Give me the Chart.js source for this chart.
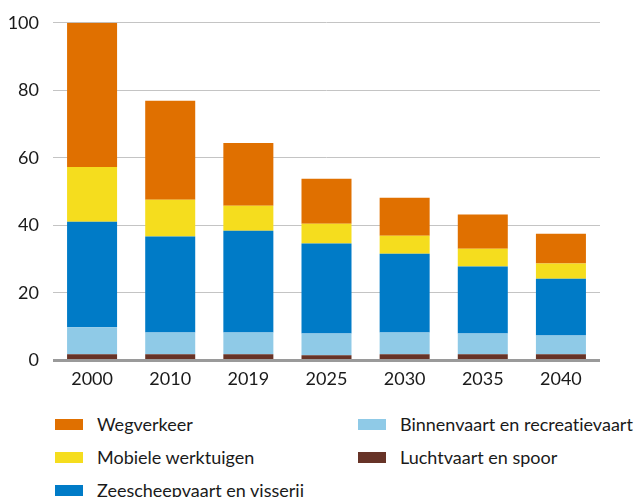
<!DOCTYPE html>
<html>
<head>
<meta charset="utf-8">
<script src="https://cdn.jsdelivr.net/npm/chart.js@4"></script>
<style>
  html, body { margin: 0; padding: 0; background: #fff; overflow: hidden; }
  body { width: 638px; height: 497px; position: relative; font-family: Lato, sans-serif; }
  #wrap { position: absolute; left: 0; top: -2px; width: 638px; height: 400px; }
  #legend {
    position: absolute; left: 55px; top: 412px;
    display: grid; grid-template-columns: 303px 290px; row-gap: 9px;
    font-size: 18px; color: #1a1a1a; font-variant-ligatures: none;
  }
  .item { display: flex; align-items: center; height: 24px; white-space: nowrap; }
  .box { width: 28px; height: 11px; margin-right: 14px; flex: none; }
</style>
</head>
<body>
<div id="wrap"><canvas id="chart"></canvas></div>
<div id="legend"></div>
<script>
// years on the x axis
const years = ['2000', '2010', '2019', '2025', '2030', '2035', '2040'];

// values per source (index 2000 = 100), stacked bottom to top
const luchtvaart = [1.8, 1.8, 1.8, 1.5, 1.8, 1.8, 1.8];
const binnenvaart = [8.0, 6.5, 6.5, 6.5, 6.5, 6.2, 5.6];
const zeescheepvaart = [31.3, 28.4, 30.1, 26.6, 23.3, 19.8, 16.8];
const mobiele = [16.2, 10.9, 7.4, 5.9, 5.3, 5.3, 4.5];
const wegverkeer = [42.7, 29.3, 18.6, 13.3, 11.3, 10.1, 8.8];

const yTicks = [0, 20, 40, 60, 80, 100];

const datasets = [
  { label: 'Luchtvaart en spoor', data: luchtvaart, backgroundColor: '#673327' },
  { label: 'Binnenvaart en recreatievaart', data: binnenvaart, backgroundColor: '#8FCAE7' },
  { label: 'Zeescheepvaart en visserij', data: zeescheepvaart, backgroundColor: '#007BC7' },
  { label: 'Mobiele werktuigen', data: mobiele, backgroundColor: '#F5DD1E' },
  { label: 'Wegverkeer', data: wegverkeer, backgroundColor: '#E07000' }
];

// legend reads row by row: left column, right column
const legendOrder = ['Wegverkeer', 'Binnenvaart en recreatievaart', 'Mobiele werktuigen',
  'Luchtvaart en spoor', 'Zeescheepvaart en visserij'];

const ctx = document.getElementById('chart').getContext('2d');
const chart = new Chart(ctx, {
  type: 'bar',
  data: {
    labels: years,
    datasets: datasets.map(d => ({ ...d, barPercentage: 0.64, categoryPercentage: 1, borderWidth: 0 }))
  },
  options: {
    responsive: true,
    maintainAspectRatio: false,
    animation: false,
    layout: { padding: { left: 0, right: 38, top: 10, bottom: 0 } },
    plugins: { legend: { display: false }, tooltip: { enabled: false } },
    scales: {
      x: {
        stacked: true,
        grid: { display: false, drawTicks: false },
        border: { display: false },
        ticks: { color: '#1a1a1a', font: { family: 'Lato', size: 18 }, padding: 8 }
      },
      y: {
        stacked: true,
        min: 0,
        max: 100,
        afterBuildTicks: axis => { axis.ticks = yTicks.map(v => ({ value: v })); },
        afterFit: axis => { axis.width = 53; },
        grid: {
          drawTicks: false,
          color: c => c.tick && c.tick.value === 0 ? '#9a9a9a' : '#c4c4c4',
          lineWidth: c => c.tick && c.tick.value === 0 ? 3 : 1
        },
        border: { display: false },
        ticks: { color: '#1a1a1a', font: { family: 'Lato', size: 18 }, padding: 14 }
      }
    }
  }
});

// html legend built from the chart's datasets
const legendEl = document.getElementById('legend');
legendOrder.forEach(name => {
  const ds = chart.data.datasets.find(d => d.label === name);
  const item = document.createElement('div');
  item.className = 'item';
  item.innerHTML = '<span class="box" style="background:' + ds.backgroundColor + '"></span><span>' + ds.label + '</span>';
  legendEl.appendChild(item);
});
</script>
</body>
</html>
